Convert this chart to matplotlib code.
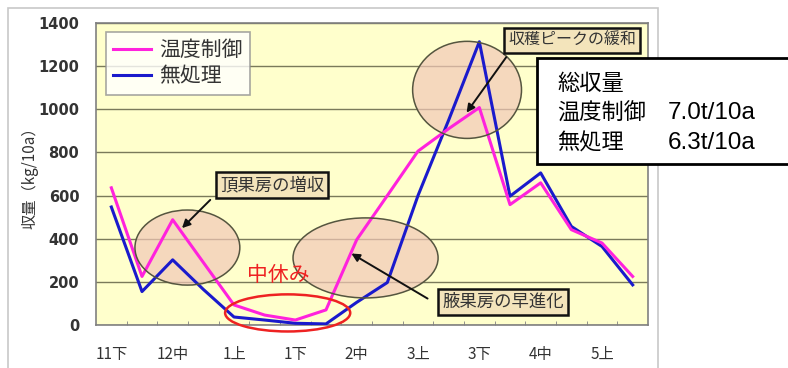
import matplotlib
matplotlib.use("Agg")
import matplotlib.pyplot as plt
from matplotlib.patches import Ellipse, Rectangle

plt.rcParams['font.family'] = ['Noto Sans CJK JP', 'DejaVu Sans']

# 10-day periods (上/中/下 = early/mid/late)
periods = ['11下', '12上', '12中', '12下', '1上', '1中', '1下', '2上', '2中',
           '2下', '3上', '3中', '3下', '4上', '4中', '4下', '5上', '5中']
temp_ctrl = [636, 225, 488, 290, 93, 46, 23, 70, 395,
             600, 806, 910, 1008, 558, 659, 442, 380, 225]
untreated = [547, 155, 302, 165, 37, 23, 8, 5, 105,
             197, 600, 950, 1313, 597, 705, 457, 364, 186]
shown_labels = ['11下', '12中', '1上', '1下', '2中', '3上', '3下', '4中', '5上']
y_ticks = [0, 200, 400, 600, 800, 1000, 1200, 1400]

W, H = 788, 368
fig = plt.figure(figsize=(W / 100, H / 100), dpi=100)
fig.patch.set_facecolor('white')

# outer chart frame
fig.patches.append(Rectangle((8 / W, -0.05), 650 / W, (H - 8) / H + 0.05,
                             transform=fig.transFigure, fill=False,
                             edgecolor='#c8c8c8', linewidth=1.2))

ax = fig.add_axes([96 / W, (H - 325) / H, 552 / W, 302 / H])
ax.set_facecolor('#ffffcc')

x = list(range(len(periods)))
ax.plot(x, temp_ctrl, color='#ff22dd', lw=2.2, label='温度制御', zorder=4)
ax.plot(x, untreated, color='#1a1acc', lw=2.2, label='無処理', zorder=3)

ax.set_xlim(-0.5, len(periods) - 0.5)
ax.set_ylim(0, 1400)
ax.set_yticks(y_ticks)
ax.set_yticklabels([str(v) for v in y_ticks], fontsize=10.5, fontweight='bold',
                   color='#333333', family='DejaVu Sans')
ax.set_xticks([periods.index(p) for p in shown_labels])
ax.set_xticklabels(shown_labels, fontsize=11, color='#333333')
ax.set_xticks([i + 0.5 for i in range(len(periods) - 1)], minor=True)
ax.tick_params(axis='x', which='major', length=0, pad=15)
ax.tick_params(axis='x', which='minor', direction='in', length=3,
               color='#808080')
ax.tick_params(axis='y', length=0, pad=12)
ax.grid(axis='y', color='#7a7a5a', lw=1)
ax.set_axisbelow(True)
for s in ax.spines.values():
    s.set_color('#808080')
    s.set_linewidth(1.2)
ax.set_ylabel('収量（kg/10a）', fontsize=11, color='#333333')
ax.yaxis.set_label_coords(-0.105, 0.5)

# highlight ellipses
for cx, cy, w, h in [(2.48, 359, 3.42, 348), (8.29, 311, 4.73, 371),
                     (11.60, 1090, 3.55, 450)]:
    ax.add_patch(Ellipse((cx, cy), w, h, facecolor='#f2c8b8', alpha=0.7,
                         edgecolor='none', zorder=1.5))
    ax.add_patch(Ellipse((cx, cy), w, h, fill=False, edgecolor='#55553f',
                         lw=1.1, zorder=5))
ax.add_patch(Ellipse((5.75, 56), 4.08, 172, fill=False, edgecolor='#ee2222',
                     lw=1.8, zorder=6, clip_on=False))
ax.text(5.43, 232, '中休み', color='#ee2222', fontsize=15, ha='center',
        va='center', zorder=6)

# callouts
box = dict(boxstyle='square,pad=0.25', facecolor='#f3e4bb', edgecolor='#111111',
           lw=1.8)
arrow = dict(arrowstyle='-|>', color='#111111', lw=1.4, mutation_scale=12)
for txt, pos, tail, tip, fs in [
        ('頂果房の増収', (5.24, 649), (3.29, 589), (2.24, 440), 12.5),
        ('腋果房の早進化', (12.77, 107), (10.39, 116), (7.75, 338), 12.5),
        ('収穫ピークの緩和', (15.02, 1317), (12.93, 1252), (11.53, 974), 11.5)]:
    ax.annotate('', xy=tip, xytext=tail, arrowprops=arrow, zorder=7)
    ax.text(pos[0], pos[1], txt, fontsize=fs, ha='center', va='center',
            color='#333333', bbox=box, zorder=8)

leg = ax.legend(loc='upper left', bbox_to_anchor=(106 / W, (H - 32) / H),
                bbox_transform=fig.transFigure, fontsize=15, frameon=True,
                fancybox=False, handlelength=1.8, handletextpad=0.4,
                borderpad=0.35, labelspacing=0.2, borderaxespad=0)
leg.get_frame().set_edgecolor('#909090')
leg.get_frame().set_linewidth(1.2)
for t in leg.get_texts():
    t.set_color('#333333')

# total yield box
fig.patches.append(Rectangle((537 / W, (H - 164) / H), 260 / W, 106 / H,
                             transform=fig.transFigure, facecolor='white',
                             edgecolor='black', linewidth=2, zorder=10))
fig.text(557 / W, 1 - 83 / H, '総収量', fontsize=16, va='center', zorder=11)
fig.text(557 / W, 1 - 113 / H, '温度制御', fontsize=16, va='center', zorder=11)
fig.text(557 / W, 1 - 143 / H, '無処理', fontsize=16, va='center', zorder=11)
fig.text(668 / W, 1 - 113 / H, '7.0t/10a', fontsize=17.5, va='center', zorder=11,
         family='Liberation Sans')
fig.text(668 / W, 1 - 143 / H, '6.3t/10a', fontsize=17.5, va='center', zorder=11,
         family='Liberation Sans')

fig.savefig('out.png', dpi=100)
